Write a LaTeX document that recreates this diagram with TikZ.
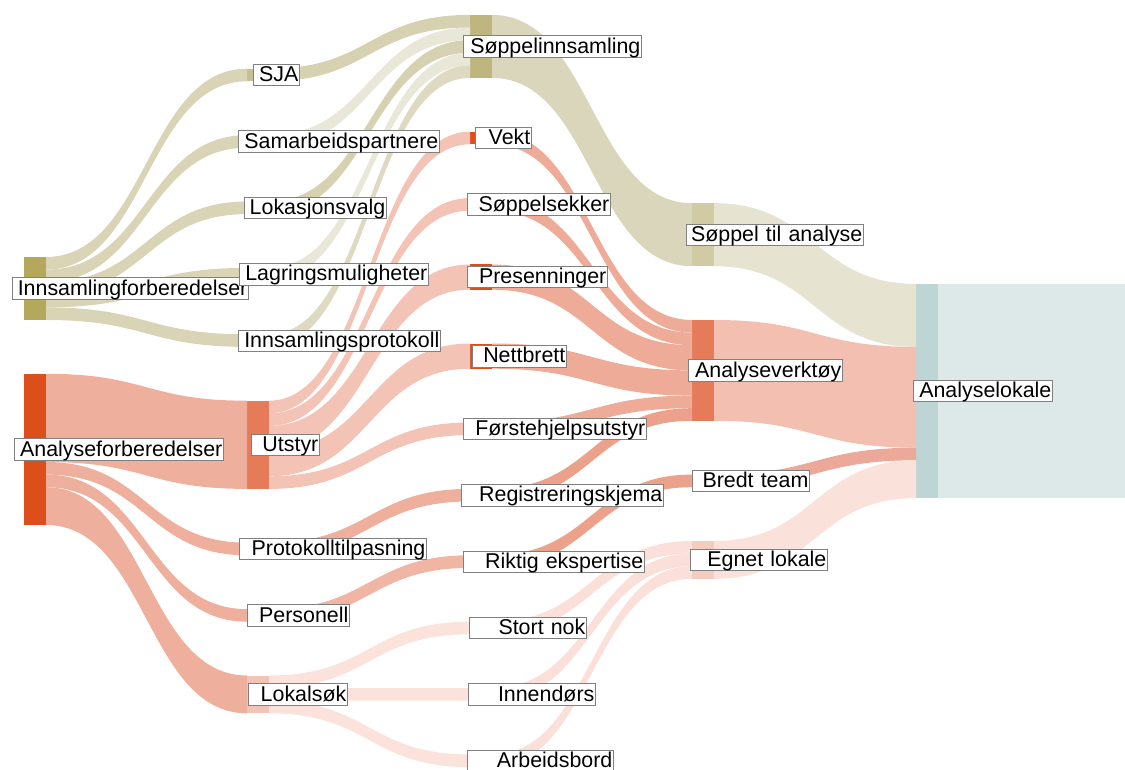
\documentclass[tikz,border=0pt]{standalone}
\usepackage{fontspec}
\newfontfamily\lblfont{Liberation Sans}
\usetikzlibrary{calc}

\definecolor{olvdark}{HTML}{B3A85C}
\definecolor{olvlink}{HTML}{D9D4B6}
\definecolor{olvbar}{HTML}{C8C092}
\definecolor{olvmid}{HTML}{D6D1B1}
\definecolor{olvpale}{HTML}{E9E7D8}
\definecolor{olvsoft}{HTML}{DEDAC2}
\definecolor{olvnode}{HTML}{BFB67F}
\definecolor{olvflow}{HTML}{DAD6BC}
\definecolor{olvnodeb}{HTML}{D0CBA3}
\definecolor{olvlast}{HTML}{E6E3D0}
\definecolor{reddark}{HTML}{DC4E1A}
\definecolor{redlink}{HTML}{EEAF9C}
\definecolor{rednode}{HTML}{E57B59}
\definecolor{redpale}{HTML}{F3C3B5}
\definecolor{redmid}{HTML}{EEAB97}
\definecolor{redreg}{HTML}{ECA28A}
\definecolor{redpers}{HTML}{F0B5A3}
\definecolor{redbredt}{HTML}{ECA898}
\definecolor{redverk}{HTML}{F2BFB1}
\definecolor{lokbar}{HTML}{F2C4B6}
\definecolor{rosepale}{HTML}{FBE3DB}
\definecolor{roselink}{HTML}{FAE0D8}
\definecolor{rosenode}{HTML}{F5CCC0}
\definecolor{roseflow}{HTML}{FAE1DA}
\definecolor{tealnode}{HTML}{BDD5D4}
\definecolor{tealpale}{HTML}{DDE8E8}

\newcommand{\linkband}[6]{%
	\fill[#6] let \p1=(#1.north east), \p2=(#3.north west) in
		(\x1,\y1-#2pt) .. controls ({(\x1+\x2)/2},\y1-#2pt) and ({(\x1+\x2)/2},\y2-#4pt) .. (\x2,\y2-#4pt)
		-- (\x2,\y2-#4pt-#5pt) .. controls ({(\x1+\x2)/2},\y2-#4pt-#5pt) and ({(\x1+\x2)/2},\y1-#2pt-#5pt) .. (\x1,\y1-#2pt-#5pt) -- cycle;}

\begin{document}
\begin{tikzpicture}[x=1pt, y=-1pt,
		bar/.style={inner sep=0pt, outer sep=0pt, minimum width=22pt, anchor=north west},
		lbl/.style={draw=black!50, line width=0.7pt, fill=white, inner xsep=1pt, inner ysep=0pt,
			text height=17.5pt, text depth=4pt, align=right, anchor=west,
			font=\lblfont\fontsize{21.4}{22}\selectfont}]
	\path[use as bounding box, clip] (0,0) rectangle (1125,770);

	\node[bar, fill=olvdark, minimum height=63pt] (inns) at (24,257) {};
	\node[bar, fill=reddark, minimum height=151.2pt] (analyse) at (24,373.8) {};

	\node[bar, fill=olvbar, minimum height=12.6pt] (sja) at (247,68.7) {};
	\node[bar, fill=olvbar, minimum height=12.6pt] (samarb) at (247,135.1) {};
	\node[bar, fill=olvbar, minimum height=12.6pt] (lokasjon) at (247,201.5) {};
	\node[bar, fill=olvbar, minimum height=12.6pt] (lagring) at (247,267.9) {};
	\node[bar, fill=olvbar, minimum height=12.6pt] (innsprot) at (247,334.3) {};
	\node[bar, fill=rednode, minimum height=88.2pt] (utstyr) at (247,400.7) {};
	\node[bar, fill=rednode, minimum height=12.6pt] (protokoll) at (247,542.7) {};
	\node[bar, fill=rednode, minimum height=12.6pt] (personell) at (247,609.1) {};
	\node[bar, fill=lokbar, minimum height=37.8pt] (lokalsok) at (247,675.5) {};

	\node[bar, fill=olvnode, minimum height=63pt] (soppinn) at (470,14.9) {};
	\node[bar, fill=reddark, minimum height=12.6pt] (vekt) at (470,131.7) {};
	\node[bar, fill=reddark, minimum height=12.6pt] (soppelsekker) at (470,198.1) {};
	\node[bar, fill=reddark, minimum height=25.2pt] (presenninger) at (470,264.5) {};
	\node[bar, fill=reddark, minimum height=25.2pt] (nettbrett) at (470,343.5) {};
	\node[bar, fill=reddark, minimum height=12.6pt] (forstehjelp) at (470,422.5) {};
	\node[bar, fill=reddark, minimum height=12.6pt] (registrering) at (470,488.9) {};
	\node[bar, fill=reddark, minimum height=12.6pt] (riktig) at (470,555.3) {};
	\node[bar, fill=rosenode, minimum height=12.6pt] (stortnok) at (470,621.7) {};
	\node[bar, fill=rosenode, minimum height=12.6pt] (innendors) at (470,688.1) {};
	\node[bar, fill=rosenode, minimum height=12.6pt] (arbeidsbord) at (470,754.5) {};

	\node[bar, fill=olvnodeb, minimum height=63pt] (soppanalyse) at (692,203.2) {};
	\node[bar, fill=rednode, minimum height=100.8pt] (verktoy) at (692,320) {};
	\node[bar, fill=rednode, minimum height=12.6pt] (bredt) at (692,474.6) {};
	\node[bar, fill=rosenode, minimum height=37.8pt] (egnet) at (692,541) {};

	\node[bar, fill=tealnode, minimum height=214.2pt] (lokale) at (916,283.9) {};
	\fill[tealpale] (lokale.north east) rectangle ([xshift=200pt]lokale.south east);

	\foreach \nd [count=\k from 0] in {sja,samarb,lokasjon,lagring,innsprot}
		\linkband{inns}{\k*12.6}{\nd}{0}{12.6}{olvlink};
	\linkband{analyse}{0}{utstyr}{0}{88.2}{redlink}
	\linkband{analyse}{88.2}{protokoll}{0}{12.6}{redlink}
	\linkband{analyse}{100.8}{personell}{0}{12.6}{redlink}
	\linkband{analyse}{113.4}{lokalsok}{0}{37.8}{redlink}

	\linkband{samarb}{0}{soppinn}{12.6}{12.6}{olvpale}
	\linkband{lagring}{0}{soppinn}{37.8}{12.6}{olvpale}
	\linkband{innsprot}{0}{soppinn}{50.4}{12.6}{olvsoft}
	\linkband{lokasjon}{0}{soppinn}{25.2}{12.6}{olvmid}
	\linkband{sja}{0}{soppinn}{0}{12.6}{olvmid}
	\linkband{soppinn}{0}{soppanalyse}{0}{63}{olvflow}

	\linkband{utstyr}{0}{vekt}{0}{12.6}{redpale}
	\linkband{utstyr}{12.6}{soppelsekker}{0}{12.6}{redpale}
	\linkband{utstyr}{25.2}{presenninger}{0}{25.2}{redpale}
	\linkband{utstyr}{50.4}{nettbrett}{0}{25.2}{redpale}
	\linkband{utstyr}{75.6}{forstehjelp}{0}{12.6}{redpale}
	\linkband{protokoll}{0}{registrering}{0}{12.6}{redlink}
	\linkband{personell}{0}{riktig}{0}{12.6}{redpers}
	\foreach \nd [count=\k from 0] in {stortnok,innendors,arbeidsbord}
		\linkband{lokalsok}{\k*12.6}{\nd}{0}{12.6}{rosepale};

	\linkband{vekt}{0}{verktoy}{0}{12.6}{redmid}
	\linkband{soppelsekker}{0}{verktoy}{12.6}{12.6}{redmid}
	\linkband{presenninger}{0}{verktoy}{25.2}{25.2}{redmid}
	\linkband{nettbrett}{0}{verktoy}{50.4}{25.2}{redmid}
	\linkband{forstehjelp}{0}{verktoy}{75.6}{12.6}{redmid}
	\linkband{registrering}{0}{verktoy}{88.2}{12.6}{redreg}
	\linkband{riktig}{0}{bredt}{0}{12.6}{redreg}
	\foreach \nd [count=\k from 0] in {stortnok,innendors,arbeidsbord}
		\linkband{\nd}{0}{egnet}{\k*12.6}{12.6}{roselink};

	\linkband{soppanalyse}{0}{lokale}{0}{63}{olvlast}
	\linkband{verktoy}{0}{lokale}{63}{100.8}{redverk}
	\linkband{bredt}{0}{lokale}{163.8}{12.6}{redbredt}
	\linkband{egnet}{0}{lokale}{176.4}{37.8}{roseflow}

	\foreach \nm/\sh/\bw/\tx in {inns/-12/234/Innsamlingforberedelser, analyse/-10/207/Analyseforberedelser,
			sja/6/44/SJA, samarb/-9/199/Samarbeidspartnere, lokasjon/-3/140/Lokasjonsvalg,
			lagring/-8/187/Lagringsmuligheter, innsprot/-9/200/Innsamlingsprotokoll, utstyr/4/66/Utstyr,
			protokoll/-8/185/Protokolltilpasning, personell/0/100/Personell, lokalsok/1/97/Lokalsøk,
			soppinn/-7/176/Søppelinnsamling, vekt/5/54/Vekt, soppelsekker/-3/141/Søppelsekker,
			presenninger/-3/138/Presenninger, nettbrett/2/92/Nettbrett, forstehjelp/-7/181/Førstehjelpsutstyr,
			registrering/-9/200/Registreringskjema, riktig/-7/179/Riktig ekspertise, stortnok/-1/115/Stort nok,
			innendors/-2/125/Innendørs, arbeidsbord/-3/144/Arbeidsbord, soppanalyse/-6/175/Søppel til analyse,
			verktoy/-4/152/Analyseverktøy, bredt/0/115/Bredt team, egnet/-2/135/Egnet lokale,
			lokale/-3/137/Analyselokale}
		\node[lbl, text width=\bw pt] (\nm-t) at ([xshift=\sh pt]\nm.west) {\tx};
\end{tikzpicture}
\end{document}
